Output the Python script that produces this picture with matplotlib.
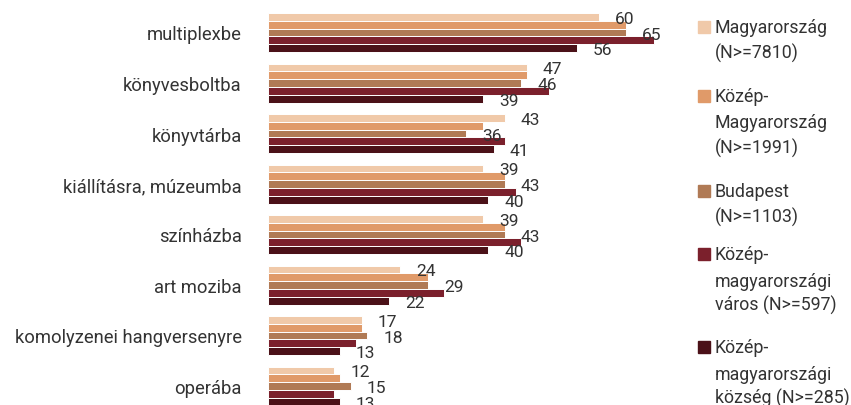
import matplotlib.pyplot as plt
from matplotlib.patches import Rectangle

plt.rcParams['font.family'] = ['Roboto', 'DejaVu Sans']

# Kategóriák és sorozatok (százalék)
categories = ['multiplexbe', 'könyvesboltba', 'könyvtárba', 'kiállításra, múzeumba',
              'színházba', 'art moziba', 'komolyzenei hangversenyre', 'operába']
series_names = ['Magyarország\n(N>=7810)',
                'Közép-\nMagyarország\n(N>=1991)',
                'Budapest\n(N>=1103)',
                'Közép-\nmagyarországi\nváros (N>=597)',
                'Közép-\nmagyarországi\nközség (N>=285)']
magyarorszag = [60, 47, 43, 39, 39, 24, 17, 12]
kozep_mo = [65, 47, 39, 43, 43, 29, 17, 13]
budapest = [65, 46, 36, 43, 43, 29, 18, 15]
km_varos = [70, 51, 43, 45, 46, 32, 16, 12]
km_kozseg = [56, 39, 41, 40, 40, 22, 13, 13]
series = [magyarorszag, kozep_mo, budapest, km_varos, km_kozseg]
labeled = [0, 2, 4]  # csak ezek a sorozatok kapnak címkét

colors = ['#F0C9A9', '#E09A69', '#B07A55', '#7B202C', '#4B1118']
text_col = '#333333'

W, H = 851, 406
fig = plt.figure(figsize=(W / 100, H / 100), dpi=100)

px_per_unit = 5.51
x0 = 268
xmax = 75
pitch = 50.5
bar_h = 7.8 / pitch
top_center = 33.5

ax = fig.add_axes([x0 / W, 0, px_per_unit * xmax / W, 1])
ax.set_xlim(0, xmax)
ax.set_ylim((H - top_center) / pitch, -top_center / pitch)

for j, vals in enumerate(series):
    for i, v in enumerate(vals):
        yc = i - 2.5 * bar_h + (j + 0.5) * bar_h
        ax.barh(yc, v, height=bar_h, color=colors[j], edgecolor='white', linewidth=0.7)
        if j in labeled:
            ax.text(v + 2.9, yc + 0.03, str(v), ha='left', va='center',
                    fontsize=12.5, color=text_col, clip_on=False)

ax.set_yticks(range(len(categories)))
ax.set_yticklabels(categories, fontsize=13.2, color=text_col)
ax.tick_params(axis='y', length=0, pad=19)
ax.set_xticks([])
for s in ax.spines.values():
    s.set_visible(False)

# Jelmagyarázat kézzel
lines_y = [[28, 53], [97, 123, 148], [192, 217], [255, 282, 305], [348, 375, 398]]
for j, name in enumerate(series_names):
    ys = lines_y[j]
    fig.patches.append(Rectangle((698 / W, 1 - (ys[0] + 6) / H), 12 / W, 12 / H,
                                 transform=fig.transFigure, color=colors[j]))
    for k, line in enumerate(name.split('\n')):
        fig.text(715 / W, 1 - ys[k] / H, line, ha='left', va='center',
                 fontsize=12.8, color=text_col)

fig.savefig('out.png', dpi=100)
plt.close()
